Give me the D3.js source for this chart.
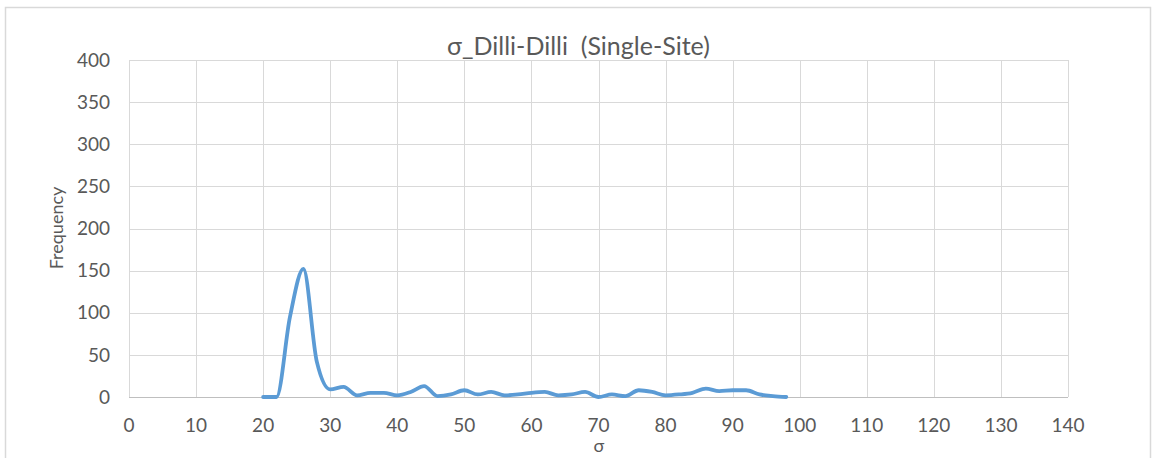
<!DOCTYPE html>
<html><head><meta charset="utf-8">
<script src="https://cdn.jsdelivr.net/npm/d3@7"></script>
<style>body{margin:0;background:#fff}svg{display:block}text{font-family:Lato,"Open Sans",sans-serif;fill:#595959;white-space:pre}</style>
</head><body><svg id="c" width="1152" height="458"></svg>
<script>
const sigma = [20,22,24,26,28,30,32,34,36,38,40,42,44,46,48,50,52,54,56,58,60,62,64,66,68,70,72,74,76,78,80,82,84,86,88,90,92,94,96,98];
const frequency = [0,0,95,152,42,9,12,2,5,5,2,6,13,1,3,8,3,6,2,3,5,6,2,3,6,0,3,1,8,6,2,3,5,10,7,8,8,3,1,0];
const xTicks = [0,10,20,30,40,50,60,70,80,90,100,110,120,130,140];
const yTicks = [0,50,100,150,200,250,300,350,400];
const title = "σ_Dilli-Dilli  (Single-Site)";
const xLabel = "σ";
const yLabel = "Frequency";

const svg = d3.select("#c");
const m = {l:129, r:1068, t:60, b:397};
const x = d3.scaleLinear().domain([0,140]).range([m.l,m.r]);
const y = d3.scaleLinear().domain([0,400]).range([m.b,m.t]);

svg.append("rect").attr("x",5.5).attr("y",7.5).attr("width",1145).attr("height",460)
  .attr("fill","none").attr("stroke","#d9d9d9").attr("stroke-width",1.5);

svg.append("g").selectAll("line").data(yTicks).join("line")
  .attr("x1",m.l).attr("x2",m.r).attr("y1",d=>Math.round(y(d))+0.5).attr("y2",d=>Math.round(y(d))+0.5)
  .attr("stroke",d=>d===0?"#bfbfbf":"#d9d9d9").attr("stroke-width",1);
svg.append("g").selectAll("line").data(xTicks).join("line")
  .attr("y1",m.t).attr("y2",m.b).attr("x1",d=>Math.round(x(d))+0.5).attr("x2",d=>Math.round(x(d))+0.5)
  .attr("stroke","#d9d9d9").attr("stroke-width",1);

svg.append("g").selectAll("text").data(yTicks).join("text")
  .attr("x",110).attr("y",d=>y(d)).attr("dy","0.35em").attr("text-anchor","end")
  .style("font-size","19px").text(d=>d);
svg.append("g").selectAll("text").data(xTicks).join("text")
  .attr("x",d=>x(d)).attr("y",425.5).attr("dy","0.35em").attr("text-anchor","middle")
  .style("font-size","19px").text(d=>d);

svg.append("text").attr("x",578.5).attr("y",55).attr("text-anchor","middle")
  .style("font-size","25px").text(title);
svg.append("text").attr("x",599).attr("y",446).attr("dy","0.35em").attr("text-anchor","middle")
  .style("font-size","18px").text(xLabel);
svg.append("text").attr("transform","translate(57,228) rotate(-90)").attr("dy","0.35em").attr("text-anchor","middle")
  .style("font-size","18px").text(yLabel);

const line = d3.line().x((d,i)=>x(sigma[i])).y(d=>y(d)).curve(d3.curveMonotoneX);
svg.append("path").datum(frequency).attr("d",line).attr("fill","none")
  .attr("stroke","#5b9bd5").attr("stroke-width",3.8).attr("stroke-linejoin","round").attr("stroke-linecap","round");
</script></body></html>
